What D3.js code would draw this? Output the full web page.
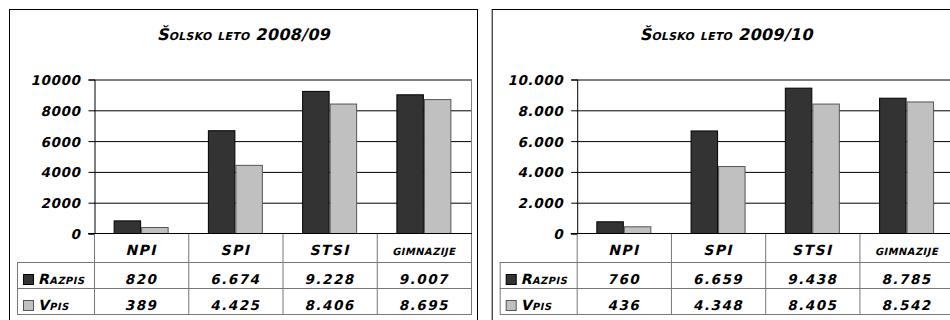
<!DOCTYPE html>
<html><head><meta charset="utf-8">
<script src="https://cdn.jsdelivr.net/npm/d3@7"></script>
<style>
body{margin:0;background:#fff}
svg text{font-family:"DejaVu Sans";font-weight:bold;font-style:normal;fill:#000}
</style>
</head><body>
<svg id="c" width="950" height="320"></svg>
<script>
const categories = ["NPI", "SPI", "STSI", "gimnazije"];
const seriesNames = ["Razpis", "Vpis"];
const titles = ["Šolsko leto 2008/09", "Šolsko leto 2009/10"];
const razpis0809 = [820, 6674, 9228, 9007];
const vpis0809 = [389, 4425, 8406, 8695];
const razpis0910 = [760, 6659, 9438, 8785];
const vpis0910 = [436, 4348, 8405, 8542];
const tickValues = [0, 2000, 4000, 6000, 8000, 10000];
const tickLabels0809 = ["0", "2000", "4000", "6000", "8000", "10000"];
const tickLabels0910 = ["0", "2.000", "4.000", "6.000", "8.000", "10.000"];
const seriesColors = ["#333333", "#c0c0c0"];
const seriesStrokes = ["#000000", "#555555"];

const SKEW = -13;
const fmt = d3.formatLocale({decimal: ",", thousands: ".", grouping: [3], currency: ["", ""]}).format(",d");
const svg = d3.select("#c");
svg.append("rect").attr("width", 950).attr("height", 320).attr("fill", "#fff");

function place(sel, fx, fy) {
  sel.attr("x", 0).attr("y", 0)
    .attr("transform", (d, i) => `translate(${fx(d, i)},${fy(d, i)}) skewX(${SKEW})`);
}

function drawChart(ox, title, tickLabels, values) {
  const g = svg.append("g").attr("transform", `translate(${ox},0)`);
  g.append("rect").attr("x", 9.5).attr("y", 9.5).attr("width", 468).attr("height", 400)
    .attr("fill", "none").attr("stroke", "#000");
  g.append("text").attr("text-anchor", "middle")
    .style("font-size", "16px").style("font-variant", "small-caps").style("letter-spacing", "0.3px")
    .text(title)
    .call(place, () => 243.5, () => 40);

  const plotL = 94, plotR = 471, top = 79, bottom = 233;
  const x = d3.scaleBand().domain(categories).range([plotL, plotR]).padding(0);
  const xs = d3.scaleBand().domain(seriesNames).range([0, x.bandwidth()]).paddingInner(0).paddingOuter(0.714);
  const y = d3.scaleLinear().domain([0, 10000]).range([bottom, top]);

  g.append("g").attr("transform", `translate(${plotL},0)`)
    .call(d3.axisLeft(y).tickValues(tickValues.slice(1)).tickSize(-(plotR - plotL)).tickFormat(""))
    .call(a => a.select(".domain").remove())
    .call(a => a.selectAll("line").attr("stroke", "#000").attr("transform", "translate(0,0.5)"));
  g.append("line").attr("x1", plotR + 0.5).attr("x2", plotR + 0.5).attr("y1", top).attr("y2", bottom)
    .attr("stroke", "#808080");

  seriesNames.forEach((s, si) => {
    g.append("g").selectAll("rect").data(values[si]).join("rect")
      .attr("x", (d, i) => x(categories[i]) + xs(s) + 0.5)
      .attr("y", d => y(d) + 0.5)
      .attr("width", xs.bandwidth() - 1)
      .attr("height", d => bottom - y(d))
      .attr("fill", seriesColors[si]).attr("stroke", seriesStrokes[si]);
  });

  const ax = g.append("g").attr("transform", `translate(${plotL + 0.5},0.5)`)
    .call(d3.axisLeft(y).tickValues(tickValues).tickSize(6).tickPadding(8)
      .tickFormat((d, i) => tickLabels[i]));
  ax.attr("font-family", null).attr("font-size", null);
  ax.selectAll("line,path").attr("stroke", "#000");
  ax.selectAll("text").attr("dy", null).style("font-size", "13.5px").style("letter-spacing", "0.6px")
    .call(place, () => -14, () => 5);

  const tblL = 17, rows = [233, 262, 288, 314];
  const tc = "#777";
  x.domain().forEach(c => {
    g.append("line").attr("x1", x(c) + 0.5).attr("x2", x(c) + 0.5).attr("y1", rows[0]).attr("y2", rows[3]).attr("stroke", tc);
  });
  g.append("line").attr("x1", plotR + 0.5).attr("x2", plotR + 0.5).attr("y1", rows[0]).attr("y2", rows[3]).attr("stroke", tc);
  g.append("line").attr("x1", tblL + 0.5).attr("x2", tblL + 0.5).attr("y1", rows[1]).attr("y2", rows[3]).attr("stroke", tc);
  [rows[1], rows[2], rows[3]].forEach(r => {
    g.append("line").attr("x1", tblL).attr("x2", plotR + 1).attr("y1", r + 0.5).attr("y2", r + 0.5).attr("stroke", tc);
  });
  g.append("line").attr("x1", plotL - 6).attr("x2", plotR + 1).attr("y1", bottom + 0.5).attr("y2", bottom + 0.5).attr("stroke", "#000");

  g.append("g").selectAll("text").data(categories).join("text")
    .attr("text-anchor", "middle")
    .style("font-size", d => d === d.toUpperCase() ? "14px" : "14.5px")
    .style("font-variant", "small-caps")
    .style("letter-spacing", d => d === d.toUpperCase() ? "1.4px" : "0.5px")
    .text(d => d)
    .call(place, d => x(d) + x.bandwidth() / 2, () => rows[1] - 7);

  seriesNames.forEach((s, si) => {
    const rt = rows[si + 1], rb = rows[si + 2];
    g.append("rect").attr("x", tblL + 6.5).attr("y", rt + 12.5).attr("width", 10).attr("height", 10)
      .attr("fill", seriesColors[si]).attr("stroke", seriesStrokes[si]);
    g.append("text")
      .style("font-size", "14px").style("font-variant", "small-caps").style("letter-spacing", "0.5px")
      .text(s)
      .call(place, () => tblL + 21, () => rb - 4);
    g.append("g").selectAll("text").data(values[si]).join("text")
      .attr("text-anchor", "middle")
      .style("font-size", "13.5px").style("letter-spacing", "1.5px")
      .text(d => fmt(d))
      .call(place, (d, i) => x(categories[i]) + x.bandwidth() / 2, () => rb - 4);
  });
}

drawChart(0, titles[0], tickLabels0809, [razpis0809, vpis0809]);
drawChart(482.7, titles[1], tickLabels0910, [razpis0910, vpis0910]);
</script>
</body></html>
